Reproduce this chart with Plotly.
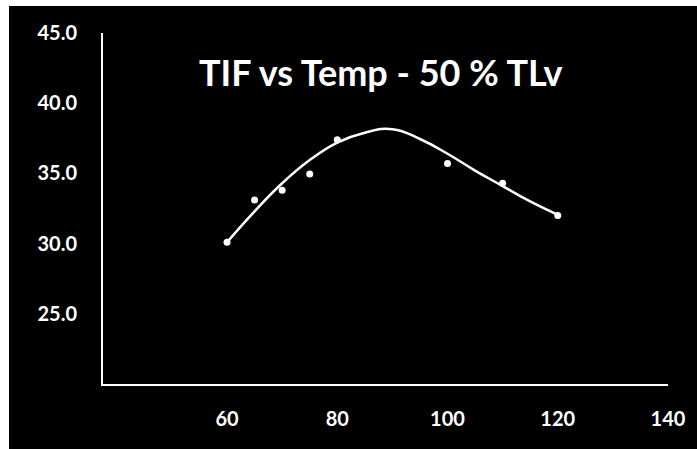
import plotly.graph_objects as go

# Measured data points (Temp, TIF)
temp = [60, 65, 70, 75, 80, 100, 110, 120]
tif = [30.1, 33.1, 33.8, 34.95, 37.4, 35.7, 34.3, 32.0]

# Smooth trend curve
curve_temp = [60, 65, 70, 75, 80, 85, 90, 95, 100, 105, 110, 115, 120]
curve_tif = [30.1, 32.3, 34.3, 35.95, 37.2, 37.9, 38.15, 37.45, 36.4, 35.2, 34.1, 33.0, 32.05]

x_ticks = [60, 80, 100, 120, 140]
y_ticks = [25, 30, 35, 40, 45]
y_tick_text = ["25.0", "30.0", "35.0", "40.0", "45.0"]

title_text = "TIF vs Temp - 50 % TLv"

W, H = 697, 449
ml, mr, mt, mb = 103, 29, 33, 65

fig = go.Figure()
fig.add_trace(go.Scatter(
    x=curve_temp, y=curve_tif, mode="lines",
    line=dict(color="white", width=2.5, shape="spline", smoothing=1.3),
    hoverinfo="skip", showlegend=False,
))
fig.add_trace(go.Scatter(
    x=temp, y=tif, mode="markers",
    marker=dict(color="white", size=7),
    showlegend=False,
))

pw = W - ml - mr
ph = H - mt - mb
def px2paperx(px):
    return (px - ml) / pw
def py2papery(py):
    return (H - mb - py) / ph

# black backdrop of the scanned slide
fig.add_shape(type="rect", xref="paper", yref="paper",
              x0=px2paperx(9), x1=px2paperx(W + 5),
              y0=py2papery(H + 5), y1=py2papery(6),
              fillcolor="black", line=dict(width=0), layer="below")

fig.add_annotation(text=title_text, xref="paper", yref="paper",
                   x=px2paperx(381), y=py2papery(72),
                   xanchor="center", yanchor="middle", showarrow=False,
                   font=dict(family="Lato", size=36, color="white", weight="bold"))

fig.update_layout(
    width=W, height=H,
    margin=dict(l=ml, r=mr, t=mt, b=mb),
    paper_bgcolor="white",
    plot_bgcolor="black",
    font=dict(family="Lato", color="white"),
    xaxis=dict(range=[37.5, 140], tickvals=x_ticks, showgrid=False, zeroline=False,
               showline=True, linecolor="white", linewidth=2, ticks="",
               automargin=False,
               tickfont=dict(size=20, color="white", family="Lato", weight="bold"),
               ticklabelstandoff=16),
    yaxis=dict(range=[20, 45], tickvals=y_ticks, ticktext=y_tick_text, showgrid=False,
               zeroline=False, showline=True, linecolor="white", linewidth=2, ticks="",
               automargin=False,
               tickfont=dict(size=20, color="white", family="Lato", weight="bold"),
               ticklabelstandoff=20),
)

fig.write_html("out.html", config={"displayModeBar": False},
               post_script="document.body.style.margin='0';document.body.style.overflow='hidden';")
